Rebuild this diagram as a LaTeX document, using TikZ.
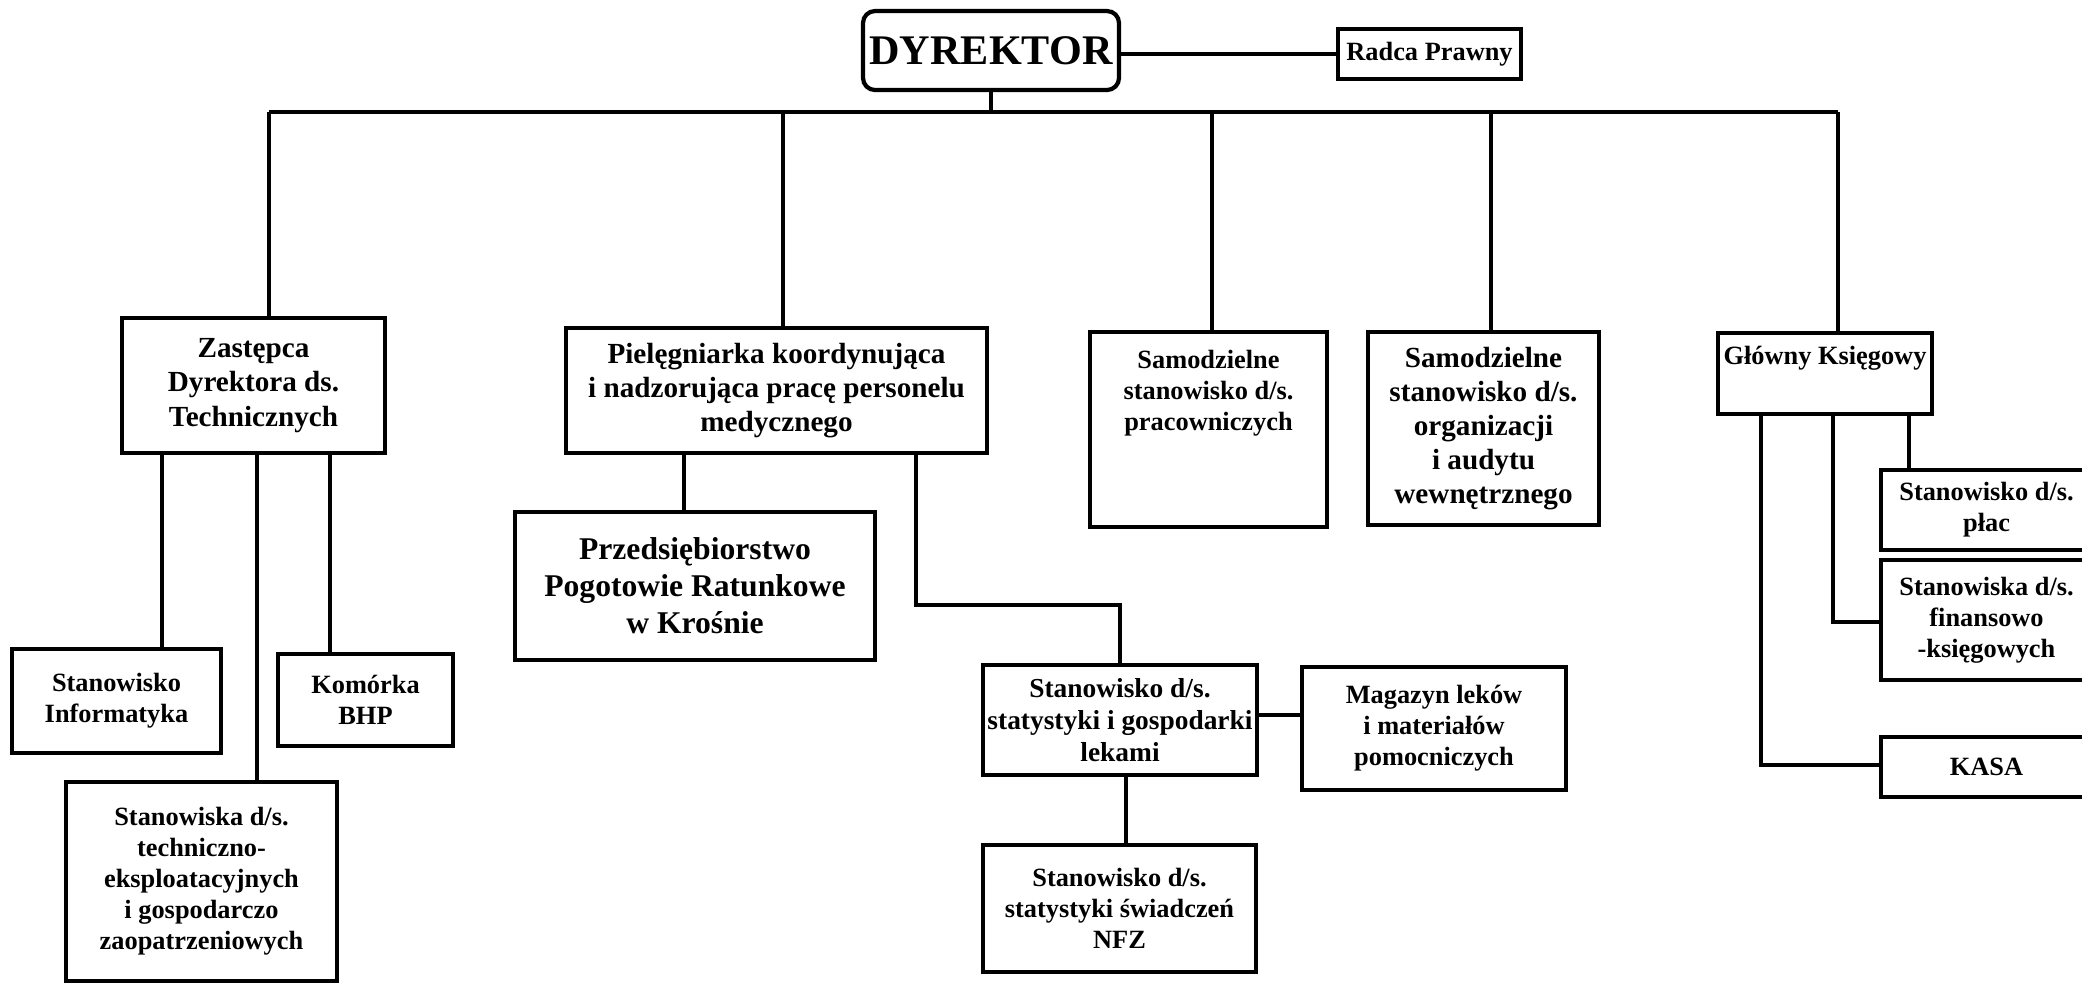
\documentclass[tikz,border=0pt]{standalone}
\usepackage{fontspec}
\setmainfont{Liberation Serif}
\begin{document}
\begin{tikzpicture}[
  box/.style={draw, line width=1.2pt, inner sep=0pt, align=center, font=\bfseries\fontsize{7.5}{8.8}\selectfont},
  txt/.style={inner sep=0pt, align=center, font=\bfseries\fontsize{7.5}{8.8}\selectfont},
  big/.style={font=\bfseries\fontsize{8.3}{9.7}\selectfont},
  wh/.style 2 args={minimum width=#1cm, minimum height=#2cm},
  link/.style={line width=0.9pt},
]
\useasboundingbox (0,0) rectangle (20.82,-9.83);

% top
\node[box, wh={2.56}{0.79}, rounded corners=1.2mm, font=\bfseries\fontsize{12}{14}\selectfont] (dyr) at (9.91,-0.505) {DYREKTOR};
\node[box, wh={1.83}{0.50}] (radca) at (14.295,-0.54) {Radca Prawny};

% second row
\node[box, big, wh={2.63}{1.35}] (zast) at (2.535,-3.855) {Zastępca\\Dyrektora ds.\\Technicznych};
\node[box, big, wh={4.21}{1.25}] (piel) at (7.765,-3.905) {Pielęgniarka koordynująca\\i nadzorująca pracę personelu\\medycznego};
\node[box, wh={2.37}{1.95}] (prac) at (12.085,-4.295) {};
\node[txt, anchor=north] (prac-txt) at ([yshift=-0.2cm]prac.north) {Samodzielne\\stanowisko d/s.\\pracowniczych};
\node[box, big, wh={2.31}{1.93}] (org) at (14.835,-4.285) {Samodzielne\\stanowisko d/s.\\organizacji\\i audytu\\wewnętrznego};
\node[box, wh={2.14}{0.81}] (glow) at (18.25,-3.735) {};
\node[txt, anchor=north] (glow-txt) at ([yshift=-0.15cm]glow.north) {Główny Księgowy};

% under Glowny Ksiegowy
\node[box, wh={2.11}{0.80}] (place) at (19.865,-5.10) {Stanowisko d/s.\\płac};
\node[box, wh={2.11}{1.20}] (fin) at (19.865,-6.20) {Stanowiska d/s.\\finansowo\\-księgowych};
\node[box, wh={2.11}{0.60}] (kasa) at (19.865,-7.67) {KASA};

% under Zastepca
\node[box, wh={2.09}{1.04}] (info) at (1.165,-7.01) {Stanowisko\\Informatyka};
\node[box, wh={1.75}{0.92}] (bhp) at (3.655,-7.00) {Komórka\\BHP};
\node[box, wh={2.71}{1.99}] (tech) at (2.015,-8.815) {Stanowiska d/s.\\techniczno-\\eksploatacyjnych\\i gospodarczo\\zaopatrzeniowych};

% under Pielegniarka
\node[box, wh={3.60}{1.48}, font=\bfseries\fontsize{9}{10.5}\selectfont] (przed) at (6.95,-5.86) {Przedsiębiorstwo\\Pogotowie Ratunkowe\\w Krośnie};
\node[box, wh={2.74}{1.10}, font=\bfseries\fontsize{7.8}{9}\selectfont] (lek) at (11.20,-7.20) {Stanowisko d/s.\\statystyki i gospodarki\\lekami};
\node[box, wh={2.64}{1.23}] (mag) at (14.34,-7.285) {Magazyn leków\\i materiałów\\pomocniczych};
\node[box, wh={2.73}{1.27}] (nfz) at (11.195,-9.085) {Stanowisko d/s.\\statystyki świadczeń\\NFZ};

% lines
\coordinate (busL) at (2.69,-1.12);
\coordinate (busR) at (18.38,-1.12);
\draw[link] (radca.west -| dyr.east) -- (radca.west);
\draw[line width=1.3pt] (busL) -- (busR);
\draw[link] (dyr.south) -- (dyr.south |- busL);
\draw[link] (busL) -- (busL |- zast.north);
\draw[link] (7.83,-1.12) -- (7.83,0 |- piel.north);
\draw[link] (12.12,-1.12) -- (12.12,0 |- prac.north);
\draw[link] (14.91,-1.12) -- (14.91,0 |- org.north);
\draw[link] (busR) -- (busR |- glow.north);

\draw[link] (1.62,0 |- zast.south) -- (1.62,0 |- info.north);
\draw[link] (2.57,0 |- zast.south) -- (2.57,0 |- tech.north);
\draw[link] (3.30,0 |- zast.south) -- (3.30,0 |- bhp.north);

\draw[link] (6.84,0 |- piel.south) -- (6.84,0 |- przed.north);
\draw[link] (9.16,0 |- piel.south) -- (9.16,-6.05) -| (lek.north);
\draw[link] (11.26,0 |- lek.south) -- (11.26,0 |- nfz.north);
\draw[line width=1.2pt] (lek.east |- 0,-7.15) -- (mag.west |- 0,-7.15);

\draw[link] (19.09,0 |- glow.south) -- (19.09,0 |- place.north);
\draw[link] (18.33,0 |- glow.south) |- (fin.west |- 0,-6.22);
\draw[link] (17.61,0 |- glow.south) |- (kasa.west |- 0,-7.65);
\end{tikzpicture}
\end{document}
